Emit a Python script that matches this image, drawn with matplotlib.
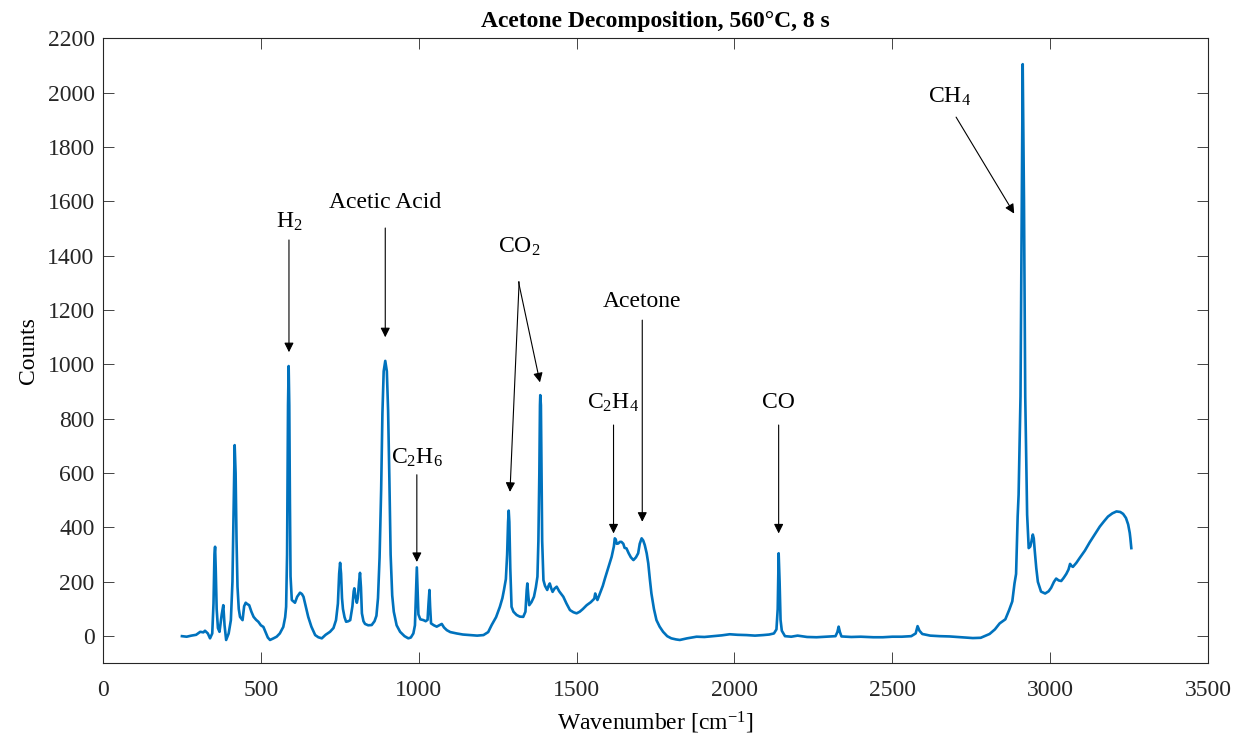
"""
Raman spectrum of acetone decomposition products (560 C, 8 s residence time).
Values traced by eye from the original figure.
"""

import numpy as np
import matplotlib.pyplot as plt

params = {"font.family": "Liberation Serif",
          "mathtext.fontset": "custom",
          "mathtext.rm": "Liberation Serif",
          "mathtext.it": "Liberation Serif:italic",
          "mathtext.bf": "Liberation Serif:bold",
          "xtick.labelsize": 17,
          "ytick.labelsize": 17,
          "axes.labelsize": 17,
          "xtick.color": "#262626",
          "ytick.color": "#262626",
          "axes.edgecolor": "#262626"}
plt.rcParams.update(params)

# spectrum, wavenumber [cm^-1]
wavenumber = [250, 265, 280, 295, 308, 318, 323, 332, 339, 346, 350, 353, 355, 357, 360, 364, 369,
              376, 381, 385, 390, 398, 405, 410, 414, 417, 420, 423, 426, 430, 434, 442, 447, 452,
              457, 463, 470, 477, 485, 492, 500, 508, 515, 522, 529, 540, 550, 560, 571, 577, 580,
              583, 585, 586, 588, 590, 592, 594, 598, 603, 608, 615, 624, 630, 635, 642, 650, 660,
              672, 682, 693, 705, 719, 730, 738, 744, 748, 751, 754, 757, 760, 765, 770, 777, 783,
              790, 794, 796, 799, 804, 807, 811, 814, 817, 820, 825, 830, 840, 851, 860, 866, 871,
              876, 881, 885, 889, 894, 899, 903, 907, 911, 916, 921, 930, 941, 955, 967, 975, 983,
              988, 991, 994, 996, 999, 1005, 1015, 1022, 1028, 1031, 1034, 1036, 1039, 1048, 1057,
              1065, 1073, 1080, 1089, 1100, 1120, 1140, 1162, 1185, 1205, 1220, 1231, 1245, 1257,
              1265, 1270, 1276, 1280, 1283, 1285, 1287, 1290, 1294, 1300, 1310, 1320, 1331, 1338,
              1342, 1344, 1347, 1350, 1357, 1365, 1371, 1376, 1379, 1382, 1384, 1385, 1387, 1389,
              1391, 1395, 1400, 1407, 1411, 1415, 1420, 1424, 1430, 1437, 1445, 1458, 1468, 1479,
              1490, 1500, 1510, 1520, 1532, 1545, 1556, 1559, 1562, 1566, 1575, 1583, 1590, 1600,
              1611, 1618, 1621, 1624, 1627, 1632, 1637, 1642, 1648, 1652, 1658, 1665, 1672, 1680,
              1688, 1695, 1700, 1706, 1711, 1716, 1722, 1727, 1732, 1737, 1745, 1753, 1763, 1774,
              1787, 1800, 1815, 1827, 1850, 1880, 1905, 1932, 1960, 1985, 2010, 2038, 2065, 2091,
              2110, 2125, 2133, 2137, 2140, 2143, 2146, 2150, 2160, 2180, 2200, 2230, 2260, 2290,
              2320, 2326, 2330, 2334, 2339, 2370, 2400, 2440, 2470, 2500, 2530, 2560, 2574, 2580,
              2586, 2595, 2620, 2650, 2681, 2720, 2755, 2780, 2808, 2825, 2840, 2858, 2870, 2880,
              2887, 2892, 2897, 2900, 2906, 2910, 2913, 2917, 2921, 2927, 2932, 2937, 2940, 2945,
              2948, 2951, 2956, 2961, 2971, 2984, 2995, 3003, 3012, 3019, 3027, 3035, 3043, 3051,
              3058, 3063, 3068, 3072, 3083, 3093, 3110, 3125, 3140, 3157, 3170, 3183, 3197, 3210,
              3222, 3231, 3240, 3247, 3252, 3254, 3257]

counts = [0, -2, 2, 5, 16, 14, 20, 10, -8, 10, 120, 300, 329, 250, 100, 30, 16,
          80, 114, 40, -14, 10, 59, 200, 500, 703, 600, 350, 182, 100, 71, 59, 110, 123,
          118, 114, 90, 71, 60, 53, 40, 34, 15, -5, -14, -8, -2, 10, 34, 70, 108,
          300, 700, 850, 994, 850, 500, 220, 133, 128, 123, 145, 160, 155, 145, 110, 71, 35,
          4, -4, -8, 5, 16, 30, 59, 120, 230, 270, 230, 140, 100, 70, 53, 55, 59,
          110, 165, 176, 150, 123, 140, 200, 233, 180, 84, 55, 45, 40, 41, 55, 75, 140,
          290, 540, 820, 975, 1013, 975, 830, 580, 300, 150, 90, 40, 16, 0, -8, -5, 10,
          40, 150, 253, 180, 80, 62, 59, 55, 60, 120, 170, 110, 47, 40, 35,
          40, 45, 32, 22, 15, 10, 6, 4, 2, 4, 15, 41, 70, 108,
          140, 170, 210, 300, 420, 462, 420, 250, 108, 90, 78, 72, 71, 90,
          170, 194, 150, 114, 125, 145, 180, 219, 350, 600, 850, 887, 850, 600,
          350, 206, 185, 170, 185, 194, 175, 163, 175, 182, 165, 145, 120, 96,
          88, 84, 90, 100, 114, 125, 138, 157, 145, 133, 160, 185, 213, 250,
          292, 330, 360, 356, 340, 341, 347, 347, 340, 325, 323, 305, 290, 280,
          290, 305, 340, 360, 352, 335, 305, 268, 210, 157, 100, 59, 35, 16,
          0, -8, -12, -14, -8, -2, -3, 0, 3, 7, 5, 4, 2, 4,
          6, 10, 25, 100, 305, 200, 60, 20, 0, -2, 2, -3, -4, -2,
          0, 15, 35, 15, -1, -3, -2, -4, -4, -2, -2, 0, 10, 37,
          20, 8, 2, 0, -1, -4, -7, -6, 8, 25, 47, 62, 96, 128,
          194, 229, 440, 520, 882, 1608, 2105, 1608, 882, 447, 324, 330, 345, 374,
          360, 316, 250, 200, 164, 157, 165, 178, 200, 212, 205, 203, 215, 229,
          245, 266, 258, 255, 270, 287, 315, 345, 372, 403, 422, 440, 452, 459,
          457, 450, 435, 411, 380, 360, 324]

# peak labels: text, text position, arrow tails and tips
labels = ["H$_2$", "Acetic Acid", "C$_2$H$_6$", "CO$_2$", "C$_2$H$_4$", "Acetone", "CO", "CH$_4$"]
label_pos = [(589, 1525), (894, 1595), (995, 655), (1318, 1432), (1616, 857), (1708, 1231),
             (2138, 859), (2680, 1984)]
arrow_tail = [(589, 1458), (894, 1502), (994, 594), (1318, 1304), (1316, 1304), (1617, 777),
              (1708, 1163), (2140, 777), (2702, 1910)]
arrow_tip = [(589, 1045), (894, 1100), (994, 273), (1289, 531), (1384, 934), (1617, 378),
             (1708, 421), (2140, 378), (2886, 1555)]

fig = plt.figure(figsize=(12.38, 7.40), dpi=100)
ax = fig.add_axes([0.0832, 0.1036, 0.8926, 0.8446])

ax.plot(wavenumber, counts, color="#0072BD", lw=1.9)

for lab, (tx, ty) in zip(labels, label_pos):
    ax.text(tx, ty, lab, ha="center", va="center", fontsize=17, color="black")
for tail, tip in zip(arrow_tail, arrow_tip):
    ax.annotate("", xy=tip, xytext=tail,
                arrowprops=dict(arrowstyle="-|>", color="black", lw=0.8,
                                mutation_scale=14, shrinkA=0, shrinkB=0))

ax.set_xlim(0, 3500)
ax.set_ylim(-100, 2200)
ax.set_xticks(np.arange(0, 3501, 500))
ax.set_yticks(np.arange(0, 2201, 200))
ax.tick_params(direction="in", length=8, width=0.6, top=True, right=True, pad=12)
ax.tick_params(axis="y", pad=6)
for s in ax.spines.values():
    s.set_linewidth(0.8)

ax.set_xlabel("Wavenumber [cm$^{-1}$]", labelpad=6)
ax.set_ylabel("Counts", labelpad=6)
ax.set_title("Acetone Decomposition, 560\u00b0C, 8 s", fontsize=17, fontweight="bold", pad=8)

plt.savefig("out.png", dpi=100)
plt.close()
